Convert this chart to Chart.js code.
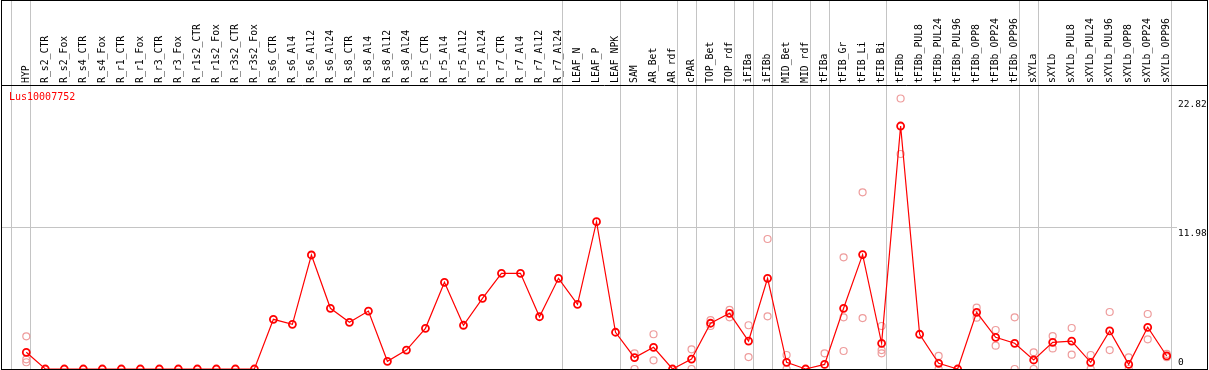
<!DOCTYPE html>
<html lang="en">
<head>
<meta charset="UTF-8">
<title>Lus10007752</title>
<script src="https://cdn.jsdelivr.net/npm/chart.js"></script>
<style>
  * { margin: 0; padding: 0; box-sizing: border-box; }
  body { background: #fff; }
  .chart-box { width: 1209px; height: 370px; }
</style>
</head>
<body>
<div class="chart-box"><canvas id="exprChart" width="1209" height="370"></canvas></div>
<script>
const geneName = 'Lus10007752';

const samples = [
  'HYP', 'R_s2_CTR', 'R_s2_Fox', 'R_s4_CTR', 'R_s4_Fox', 'R_r1_CTR', 'R_r1_Fox',
  'R_r3_CTR', 'R_r3_Fox', 'R_r1s2_CTR', 'R_r1s2_Fox', 'R_r3s2_CTR', 'R_r3s2_Fox',
  'R_s6_CTR', 'R_s6_Al4', 'R_s6_Al12', 'R_s6_Al24', 'R_s8_CTR', 'R_s8_Al4', 'R_s8_Al12',
  'R_s8_Al24', 'R_r5_CTR', 'R_r5_Al4', 'R_r5_Al12', 'R_r5_Al24', 'R_r7_CTR', 'R_r7_Al4',
  'R_r7_Al12', 'R_r7_Al24', 'LEAF_N', 'LEAF_P', 'LEAF_NPK', 'SAM', 'AR_Bet', 'AR_rdf',
  'cPAR', 'TOP_Bet', 'TOP_rdf', 'iFIBa', 'iFIBb', 'MID_Bet', 'MID_rdf', 'tFIBa',
  'tFIB_Gr', 'tFIB_Li', 'tFIB_Bi', 'tFIBb', 'tFIBb_PUL8', 'tFIBb_PUL24', 'tFIBb_PUL96',
  'tFIBb_OPP8', 'tFIBb_OPP24', 'tFIBb_OPP96', 'sXYLa', 'sXYLb', 'sXYLb_PUL8',
  'sXYLb_PUL24', 'sXYLb_PUL96', 'sXYLb_OPP8', 'sXYLb_OPP24', 'sXYLb_OPP96'
];

// mean expression per sample
const meanValues = [
  1.41, 0, 0, 0, 0, 0, 0, 0, 0, 0, 0, 0, 0,
  4.19, 3.77, 9.62, 5.12, 3.94, 4.89, 0.65, 1.60, 3.43, 7.31, 3.69, 5.96,
  8.07, 8.07, 4.41, 7.65, 5.46, 12.43, 3.10, 0.96, 1.83, 0, 0.84, 3.86,
  4.70, 2.36, 7.65, 0.56, 0, 0.39, 5.12, 9.65, 2.17, 20.50, 2.93, 0.48,
  0, 4.78, 2.67, 2.17, 0.76, 2.25, 2.36, 0.56, 3.21, 0.39, 3.52, 1.10
];

// individual replicates (null = none shown)
const rep1 = [
  2.76, null, null, null, null, null, null, null, null, null, null, null, null,
  null, null, null, null, null, null, null, null, null, null, null, null,
  null, null, null, null, null, null, null, 1.32, 2.93, null, 1.66, 4.13,
  4.98, 3.69, 10.97, 1.18, null, 1.32, 9.42, 14.91, 3.63, 22.82, null, 1.10,
  null, 5.17, 3.29, 4.36, 1.41, 2.78, 3.46, 1.18, 4.81, 0.98, 4.64, 1.27
];
const rep2 = [
  0.82, null, null, null, null, null, null, null, null, null, null, null, null,
  null, null, null, null, null, null, null, null, null, null, null, null,
  null, null, null, null, null, null, null, 0, 0.73, null, 0, 3.63,
  4.36, 1.01, 4.44, 0, null, null, 4.36, 4.30, 1.60, 18.14, null, 0,
  null, 4.33, 1.97, 0, 0, 1.74, 1.21, 0, 1.60, 0, 2.50, 0.99
];
const rep3 = [
  0.57, null, null, null, null, null, null, null, null, null, null, null, null,
  null, null, null, null, null, null, null, null, null, null, null, null,
  null, null, null, null, null, null, null, null, null, null, null, null,
  null, null, null, null, null, null, 1.52, null, 1.32, null, null, null,
  null, null, null, null, null, null, null, null, null, null, null, null
];

const yTicks = [0, 11.98, 22.82];
// sample index after which a group separator is drawn
const groupEnds = [-1, 0, 28, 31, 34, 35, 37, 38, 39, 41, 42, 45, 52, 53, 60];

const monoFont = 'DejaVu Sans Mono';

const replicatePoints = [];
[rep1, rep2, rep3].forEach(rep => {
  rep.forEach((v, i) => {
    if (v !== null) replicatePoints.push({ x: i, y: v });
  });
});

const framePlugin = {
  id: 'frame',
  beforeDatasetsDraw(chart) {
    const { ctx, chartArea, scales } = chart;
    ctx.save();
    ctx.strokeStyle = '#c4c4c4';
    ctx.lineWidth = 1;
    groupEnds.forEach(i => {
      const x = Math.round(scales.x.getPixelForValue(i) + 4) + 0.5;
      ctx.beginPath();
      ctx.moveTo(x, 0);
      ctx.lineTo(x, chartArea.bottom);
      ctx.stroke();
    });
    ctx.restore();
  },
  afterDraw(chart) {
    const { ctx, chartArea } = chart;
    ctx.save();
    ctx.strokeStyle = '#000';
    ctx.lineWidth = 1;
    ctx.strokeRect(1.5, 0.5, 1206, 369);
    ctx.beginPath();
    ctx.moveTo(1, chartArea.top + 0.5);
    ctx.lineTo(1208, chartArea.top + 0.5);
    ctx.stroke();
    // gene name
    ctx.fillStyle = '#ff0000';
    ctx.font = '10px "' + monoFont + '"';
    ctx.textBaseline = 'middle';
    ctx.fillText(geneName, chartArea.left + 8, chartArea.top + 12);
    ctx.restore();
  }
};

new Chart(document.getElementById('exprChart'), {
  type: 'scatter',
  data: {
    datasets: [
      {
        label: geneName,
        data: meanValues.map((v, i) => ({ x: i, y: v })),
        showLine: true,
        borderColor: '#ff0000',
        borderWidth: 1.2,
        tension: 0,
        pointRadius: 3.5,
        pointBorderWidth: 1.8,
        pointBorderColor: '#ff0000',
        pointBackgroundColor: 'rgba(0,0,0,0)',
        clip: false
      },
      {
        label: 'replicates',
        data: replicatePoints,
        pointRadius: 3.5,
        pointBorderWidth: 1.2,
        pointBorderColor: '#ee9c9c',
        pointBackgroundColor: 'rgba(0,0,0,0)',
        clip: false
      }
    ]
  },
  options: {
    responsive: false,
    animation: false,
    devicePixelRatio: 1,
    layout: { autoPadding: false, padding: { left: 1, right: 0, top: 0, bottom: 1 } },
    plugins: { legend: { display: false }, tooltip: { enabled: false } },
    scales: {
      x: {
        type: 'linear',
        position: 'top',
        min: -1.331,
        max: 60.541,
        afterBuildTicks: s => { s.ticks = samples.map((_, i) => ({ value: i })); },
        afterFit: s => { s.height = 85; s.paddingLeft = 0; s.paddingRight = 0; },
        grid: { display: false, drawTicks: false },
        border: { display: false },
        ticks: {
          autoSkip: false,
          minRotation: 90,
          maxRotation: 90,
          padding: 2,
          labelOffset: 11.8,
          color: '#000',
          font: { family: monoFont, size: 9.8 },
          callback: v => samples[v]
        }
      },
      y: {
        position: 'right',
        min: 0,
        max: 22.82 * 1.05,
        afterBuildTicks: s => { s.ticks = yTicks.map(v => ({ value: v })); },
        afterFit: s => { s.width = 32; s.paddingTop = 0; s.paddingBottom = 0; },
        grid: {
          drawTicks: false,
          color: c => (c.index === 1 ? '#c4c4c4' : 'rgba(0,0,0,0)')
        },
        border: { display: false },
        ticks: {
          padding: 1,
          color: '#000',
          font: { family: monoFont, size: 9.5, lineHeight: 1.3 },
          callback: v => (v === 0 ? ['0', ''] : ['', String(v)])
        }
      }
    }
  },
  plugins: [framePlugin]
});
</script>
</body>
</html>
